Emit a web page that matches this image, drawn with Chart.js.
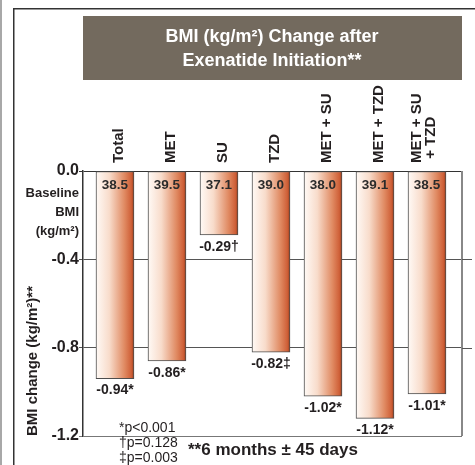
<!DOCTYPE html>
<html>
<head>
<meta charset="utf-8">
<script src="https://cdn.jsdelivr.net/npm/chart.js@4.4.1/dist/chart.umd.min.js"></script>
<style>
  body { margin: 0; background: #fff; }
</style>
</head>
<body>
<canvas id="bmiChart" width="475" height="465"></canvas>
<script>
const groups = ['Total', 'MET', 'SU', 'TZD', 'MET + SU', 'MET + TZD', ['MET + SU', ' + TZD']];
const bmiChange = [-0.94, -0.86, -0.29, -0.82, -1.02, -1.12, -1.01];
const significance = ['*', '*', '†', '‡', '*', '*', '*'];
const baselineBmi = ['38.5', '39.5', '37.1', '39.0', '38.0', '39.1', '38.5'];
const footnotes = ['*p<0.001', '†p=0.128', '‡p=0.003'];
const titleLines = ['BMI (kg/m²) Change after', 'Exenatide Initiation**'];
const baselineLabel = ['Baseline', 'BMI', '(kg/m²)'];

const FONT = "'Liberation Sans', Arial, sans-serif";
const INK = '#231f20';

function barFill(c) {
  const chart = c.chart;
  if (!chart.chartArea || c.dataIndex === undefined) return '#e08050';
  const cx = chart.scales.x.getPixelForValue(c.dataIndex);
  const g = chart.ctx.createLinearGradient(cx - 19, 0, cx + 19, 0);
  g.addColorStop(0, '#fffaf6');
  g.addColorStop(0.35, '#f8dccb');
  g.addColorStop(0.75, '#e08a62');
  g.addColorStop(0.93, '#cf6038');
  g.addColorStop(1, '#9c3f1c');
  return g;
}

// extra drawing: frame, title box, labels, footnotes
const decor = {
  id: 'decor',
  beforeDraw(chart) {
    const ctx = chart.ctx;
    ctx.save();
    ctx.fillStyle = '#a8a8a8';
    ctx.fillRect(0, 0, 2, 465);
    ctx.fillStyle = '#333';
    ctx.fillRect(13, 8, 1.5, 457);
    ctx.fillRect(13, 8, 462, 1.5);

    ctx.fillStyle = '#736a5e';
    ctx.fillRect(83, 16, 379, 64);
    ctx.fillStyle = '#fff';
    ctx.font = 'bold 18px ' + FONT;
    ctx.textAlign = 'center';
    ctx.textBaseline = 'middle';
    ctx.fillText(titleLines[0], 272, 37);
    ctx.fillText(titleLines[1], 272, 61);
    ctx.restore();
  },
  afterDraw(chart) {
    const ctx = chart.ctx;
    const xs = chart.scales.x, ys = chart.scales.y;
    const area = chart.chartArea;
    ctx.save();

    // right border of plot + grid line stubs beyond it
    ctx.strokeStyle = '#888';
    ctx.lineWidth = 2;
    ctx.beginPath();
    ctx.moveTo(area.right, area.top);
    ctx.lineTo(area.right, area.bottom);
    ctx.stroke();
    ctx.strokeStyle = '#555';
    ctx.lineWidth = 1;
    [-0.4, -0.8].forEach(v => {
      const y = Math.round(ys.getPixelForValue(v)) + 0.5;
      ctx.beginPath();
      ctx.moveTo(area.right, y);
      ctx.lineTo(area.right + 10, y);
      ctx.stroke();
    });

    ctx.fillStyle = INK;
    ctx.textBaseline = 'middle';

    // category labels, rotated
    ctx.font = 'bold 15px ' + FONT;
    groups.forEach((g, i) => {
      const lines = Array.isArray(g) ? g : [g];
      const cx = xs.getPixelForValue(i) + 4;
      ctx.save();
      ctx.translate(cx, 163);
      ctx.rotate(-Math.PI / 2);
      ctx.textAlign = 'left';
      lines.forEach((l, j) => ctx.fillText(l, 0, (j - (lines.length - 1)) * 14));
      ctx.restore();
    });

    // baseline BMI inside bar tops and change labels below bars
    ctx.textAlign = 'center';
    ctx.fillStyle = '#2b2b2b';
    ctx.font = 'bold 13.5px ' + FONT;
    baselineBmi.forEach((b, i) => {
      ctx.fillText(b, xs.getPixelForValue(i), 185);
    });
    ctx.fillStyle = INK;
    ctx.font = 'bold 14px ' + FONT;
    bmiChange.forEach((v, i) => {
      ctx.fillText(v.toFixed(2) + significance[i], xs.getPixelForValue(i), ys.getPixelForValue(v) + 12);
    });

    // baseline label at left
    ctx.textAlign = 'right';
    ctx.font = 'bold 13px ' + FONT;
    baselineLabel.forEach((l, j) => ctx.fillText(l, 79, 193 + j * 19));

    // footnotes
    ctx.textAlign = 'left';
    ctx.font = '14px ' + FONT;
    footnotes.forEach((f, j) => ctx.fillText(f, 119, 428 + j * 15));
    ctx.font = 'bold 17px ' + FONT;
    ctx.fillText('**6 months ± 45 days', 188, 450);

    ctx.restore();
  }
};

new Chart(document.getElementById('bmiChart'), {
  type: 'bar',
  data: {
    datasets: [{
      data: bmiChange.map((v, i) => ({ x: i, y: v })),
      backgroundColor: barFill,
      borderColor: '#4d4d4d',
      borderWidth: 1,
      borderSkipped: false,
      barThickness: 38
    }]
  },
  options: {
    responsive: false,
    devicePixelRatio: 1,
    animation: false,
    layout: { padding: { left: 0, top: 171, right: 13, bottom: 29 } },
    plugins: { legend: { display: false }, tooltip: { enabled: false } },
    scales: {
      x: {
        type: 'linear',
        min: -0.615,
        max: 6.673,
        offset: false,
        display: false
      },
      y: {
        min: -1.2,
        max: 0,
        afterFit: s => { s.width = 83; },
        ticks: {
          stepSize: 0.4,
          padding: 0,
          color: INK,
          font: { family: FONT, size: 16, weight: 'bold' },
          callback: v => v.toFixed(1)
        },
        grid: {
          tickLength: 4,
          lineWidth: 1,
          color: c => c.tick && c.tick.value === 0 ? '#333' : (c.tick && c.tick.value <= -1.19 ? '#777' : '#555')
        },
        border: { display: true, color: '#333', width: 1.5 },
        title: {
          display: true,
          text: 'BMI change (kg/m²)**',
          align: 'start',
          color: INK,
          padding: { top: 24 },
          font: { family: FONT, size: 15, weight: 'bold' }
        }
      }
    }
  },
  plugins: [decor]
});
</script>
</body>
</html>
